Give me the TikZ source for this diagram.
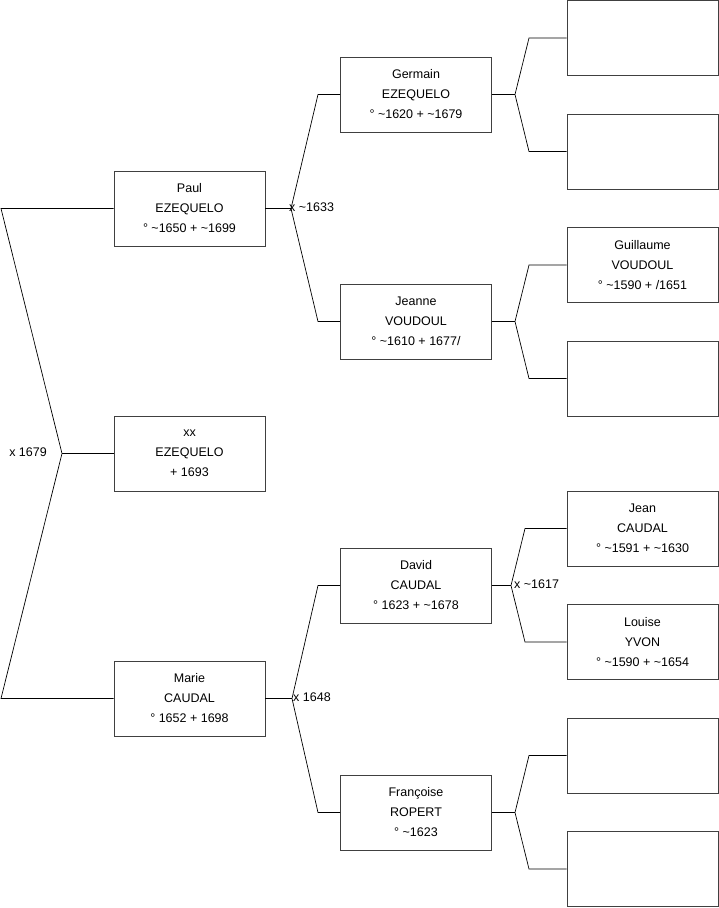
\documentclass[tikz,border=0pt]{standalone}
\usepackage{fontspec}
\setmainfont{Liberation Sans}
\newcommand\tld{\textasciitilde}
\begin{document}
\begin{tikzpicture}[x=1pt,y=-1pt,
  person/.style={draw=black!75,line width=0.8pt,minimum width=151pt,minimum height=75pt,align=center,inner sep=0pt,font=\fontsize{12.5}{20}\selectfont},
  link/.style={draw=black,line width=0.7pt},
  marr/.style={anchor=west,inner sep=0pt,font=\fontsize{12.5}{14}\selectfont}]
\useasboundingbox (0,0) rectangle (719,908);
% generation 1
\node[person] (paul) at (189.5,208.5) {Paul\\EZEQUELO\\° \tld1650 + \tld1699};
\node[person] (xx) at (189.5,453.5) {xx\\EZEQUELO\\+ 1693};
\node[person] (marie) at (189.5,698.5) {Marie\\CAUDAL\\° 1652 + 1698};
% generation 2
\node[person] (germain) at (416,94.5) {Germain\\EZEQUELO\\° \tld1620 + \tld1679};
\node[person] (jeanne) at (416,321.5) {Jeanne\\VOUDOUL\\° \tld1610 + 1677/};
\node[person] (david) at (416,585.5) {David\\CAUDAL\\° 1623 + \tld1678};
\node[person] (francoise) at (416,812.5) {Françoise\\ROPERT\\° \tld1623};
% generation 3
\node[person] (g1) at (642.5,38) {};
\node[person] (g2) at (642.5,151.5) {};
\node[person] (g3) at (642.5,265) {Guillaume\\VOUDOUL\\° \tld1590 + /1651};
\node[person] (g4) at (642.5,378.5) {};
\node[person] (g5) at (642.5,528.5) {Jean\\CAUDAL\\° \tld1591 + \tld1630};
\node[person] (g6) at (642.5,642) {Louise\\YVON\\° \tld1590 + \tld1654};
\node[person] (g7) at (642.5,755.5) {};
\node[person] (g8) at (642.5,869) {};
% root bracket
\coordinate (ra) at (1,208.5);
\coordinate (rb) at (1,698.5);
\coordinate (rv) at (62,453.5);
\draw[link] (paul.west) -- (ra) -- (rv) -- (rb) -- (marie.west);
\draw[link] (rv) -- (xx.west);
\node[anchor=east,inner sep=0pt,font=\fontsize{12.5}{14}\selectfont] (m0) at (47,452) {x 1679};
% Paul's parents
\coordinate (pv) at (291,208.5);
\coordinate (pa) at (318,94.5);
\coordinate (pb) at (318,321.5);
\draw[link] (paul.east) -- (pv);
\draw[link] (germain.west) -- (pa) -- (pv) -- (pb) -- (jeanne.west);
\node[marr] (m1) at (289,207) {x \tld1633};
% Marie's parents
\coordinate (mv) at (292,698.5);
\coordinate (ma) at (318,585.5);
\coordinate (mb) at (318,812.5);
\draw[link] (marie.east) -- (mv);
\draw[link] (david.west) -- (ma) -- (mv) -- (mb) -- (francoise.west);
\node[marr] (m2) at (293,697) {x 1648};
% Germain's parents
\coordinate (gv) at (515,94.5);
\coordinate (ga) at (529,38);
\coordinate (gb) at (529,151.5);
\draw[link] (germain.east) -- (gv);
\draw[link] (g1.west) -- (ga) -- (gv) -- (gb) -- (g2.west);
% Jeanne's parents
\coordinate (jv) at (515,321.5);
\coordinate (ja) at (529,265);
\coordinate (jb) at (529,378.5);
\draw[link] (jeanne.east) -- (jv);
\draw[link] (g3.west) -- (ja) -- (jv) -- (jb) -- (g4.west);
% David's parents
\coordinate (dv) at (511,585.5);
\coordinate (da) at (525,528.5);
\coordinate (db) at (525,642);
\draw[link] (david.east) -- (dv);
\draw[link] (g5.west) -- (da) -- (dv) -- (db) -- (g6.west);
\node[marr] (m3) at (514,584) {x \tld1617};
% Françoise's parents
\coordinate (fv) at (515,812.5);
\coordinate (fa) at (529,755.5);
\coordinate (fb) at (529,869);
\draw[link] (francoise.east) -- (fv);
\draw[link] (g7.west) -- (fa) -- (fv) -- (fb) -- (g8.west);
\end{tikzpicture}
\end{document}
